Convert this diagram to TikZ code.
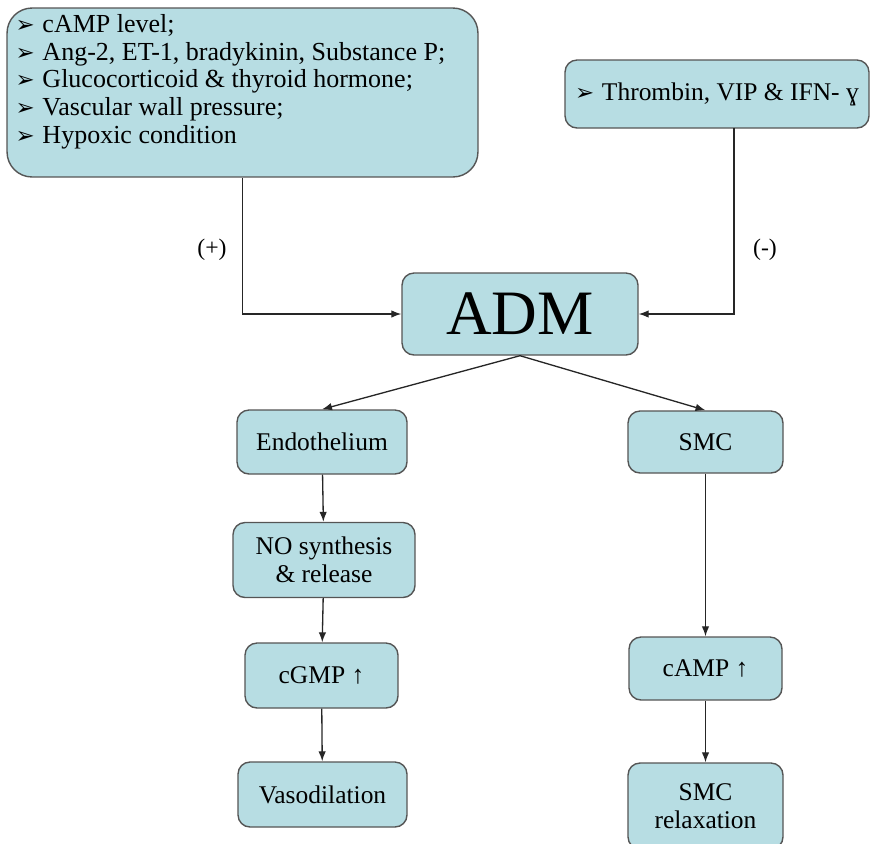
\documentclass[tikz,border=0pt]{standalone}
\usepackage{fontspec}
\setmainfont{Liberation Serif}
\newfontfamily\dingfont{DejaVu Sans}
\usetikzlibrary{arrows,arrows.meta,shapes,positioning}

\definecolor{boxfill}{RGB}{183,221,227}
\definecolor{boxline}{RGB}{85,85,85}

\newcommand{\pt}{{\dingfont\fontsize{13}{12}\selectfont\char"27A2}\hspace{0.3em}}

\tikzset{
  box/.style={draw=boxline, line width=0.8pt, fill=boxfill, rounded corners=0.24cm,
    align=center, font=\fontsize{14.5}{16}\selectfont},
  link/.style={draw=black!85, line width=0.75pt, -{Latex[length=0.2cm,width=0.15cm]}}
}

\begin{document}
\begin{tikzpicture}[x=0.02cm,y=-0.02cm]
\path[use as bounding box, clip] (0,0) rectangle (871,843);

% regulators
\node [box, rounded corners=0.5cm, minimum width=9.42cm, minimum height=3.38cm, inner sep=0.1cm] (factors) at (242.5,92.5)
  {\begin{minipage}[t][3.14cm][t]{9.08cm}\raggedright\fontsize{14.8}{15.9}\selectfont
   \pt cAMP level;\\
   \pt Ang-2, ET-1, bradykinin, Substance P;\\
   \pt Glucocorticoid \& thyroid hormone;\\
   \pt Vascular wall pressure;\\
   \pt Hypoxic condition\end{minipage}};
\node [box, minimum width=6.08cm, minimum height=1.36cm] (thr) at (717,94) {\pt Thrombin, VIP \& IFN- ɣ};

\node [box, minimum width=4.72cm, minimum height=1.64cm, font=\fontsize{36}{38}\selectfont] (adm) at (520,314) {ADM};

% left branch
\node [box, minimum width=3.4cm, minimum height=1.28cm] (endo) at (322,442) {Endothelium};
\node [box, minimum width=3.64cm, minimum height=1.5cm] (no) at (324,560) {NO synthesis\\ \& release};
\node [box, minimum width=3.06cm, minimum height=1.3cm] (cgmp) at (321.5,675.5) {cGMP ↑};
\node [box, minimum width=3.38cm, minimum height=1.3cm] (vaso) at (322.5,794.5) {Vasodilation};

% right branch
\node [box, minimum width=3.1cm, minimum height=1.24cm] (smc) at (705.5,442) {SMC};
\node [box, minimum width=3.06cm, minimum height=1.26cm] (camp) at (705.5,668.5) {cAMP ↑};
\node [box, minimum width=3.1cm, minimum height=1.72cm] (relax) at (705.5,806) {SMC\\ relaxation};

\small
\node (plus) at (212,250) {\fontsize{13.5}{14}\selectfont (+)};
\node (minus) at (765,250) {\fontsize{13.5}{14}\selectfont (-)};

\coordinate (thrfoot) at (734,128);

\draw [link] (factors.south) |- (adm.west);
\draw [link] (thrfoot) |- (adm.east);
\draw [link] (adm.south) -- (endo.north);
\draw [link] (adm.south) -- (smc.north);
\draw [link] (endo) -- (no);
\draw [link] (no) -- (cgmp);
\draw [link] (cgmp) -- (vaso);
\draw [link] (smc) -- (camp);
\draw [link] (camp) -- (relax);
\end{tikzpicture}
\end{document}
